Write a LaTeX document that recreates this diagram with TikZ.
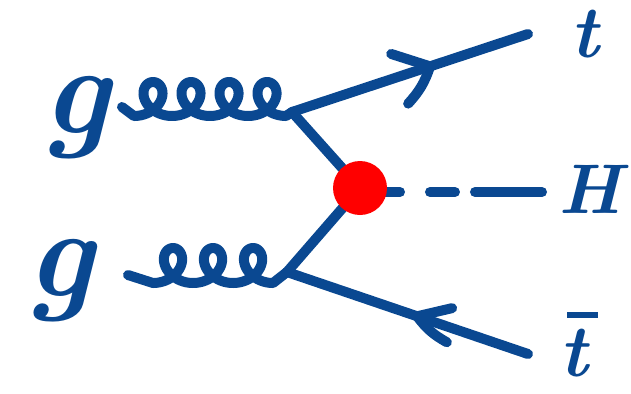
\documentclass[tikz,border=0pt]{standalone}
\usepackage{fontspec}
\usetikzlibrary{decorations.markings}
\definecolor{feyn}{RGB}{10,72,145}
\definecolor{blobred}{RGB}{255,0,0}
\tikzset{
  prop/.style={draw=feyn, line width=0.2cm, line cap=round, line join=round},
  gluon/.style={prop},
  scalar/.style={prop, dash pattern=on 0.8cm off 0.6cm on 0.5cm off 0.4cm on 1.4cm},
  lbl/.style={text=feyn, inner sep=0pt},
  bigg/.style={lbl, font=\fontsize{72}{74}\selectfont\bfseries\itshape},
  bigt/.style={lbl, font=\fontsize{42}{44}\selectfont\bfseries\itshape},
  bigh/.style={lbl, font=\fontsize{40}{42}\selectfont\bfseries\itshape},
  blob/.style={circle, fill=blobred, draw=none, minimum size=1.08cm, inner sep=0pt},
  arrowfwd/.style={postaction={decorate, decoration={markings,
      mark=at position #1 with {\draw[prop] (-0.66cm,0.48cm) -- (0,0) to[bend left=12] (-0.65cm,-0.57cm);}}}},
  arrowback/.style={postaction={decorate, decoration={markings,
      mark=at position #1 with {\draw[prop] (0.61cm,0.38cm) -- (0,0) to[bend right=12] (0.73cm,-0.3cm);}}}},
}
\newcommand{\tbarlabel}{\rlap{\kern0.1em\raisebox{0.78em}{\rule{0.42em}{0.085em}}}t}
\begin{document}
\begin{tikzpicture}[x=0.02cm,y=-0.02cm]
\useasboundingbox (0,0) rectangle (631,393);
% coordinates
\coordinate (v1) at (292,112);
\coordinate (v2) at (287,272);
\coordinate (bc) at (360,188);
\coordinate (g1s) at (122,107);
\coordinate (g2s) at (128,275);
\coordinate (tend) at (528,34);
\coordinate (bend) at (528,354);
\coordinate (hend) at (542,192);
\coordinate (hstart) at (360,192);
% labels
\node[bigg] (g1) at (76,118) {g};
\node[bigg] (g2) at (60,281) {g};
\node[bigt] (t) at (585,34) {t};
\node[bigh] (H) at (590,189) {H};
\node[bigt, anchor=base] (tb) at (574,376) {\tbarlabel};
% gluons
\draw[gluon] (g1s) -- plot[domain=-pi:7*pi, samples=240, variable=\t]
  ({153+6.05*\t-18*sin(\t r)},{99-17*cos(\t r)}) -- (v1);
\draw[gluon] (g2s) -- plot[domain=-pi:5*pi, samples=200, variable=\t]
  ({173+6.37*\t-18*sin(\t r)},{265.5-17.5*cos(\t r)}) -- (v2);
% fermions
\draw[prop, arrowfwd=0.585] (v1) -- (tend);
\draw[prop, arrowback=0.54] (v2) -- (bend);
% vertex lines
\draw[prop] (v1) -- (bc);
\draw[prop] (v2) -- (bc);
% higgs
\draw[scalar] (hstart) -- (hend);
% blob
\node[blob] (blob) at (bc) {};
\end{tikzpicture}
\end{document}
